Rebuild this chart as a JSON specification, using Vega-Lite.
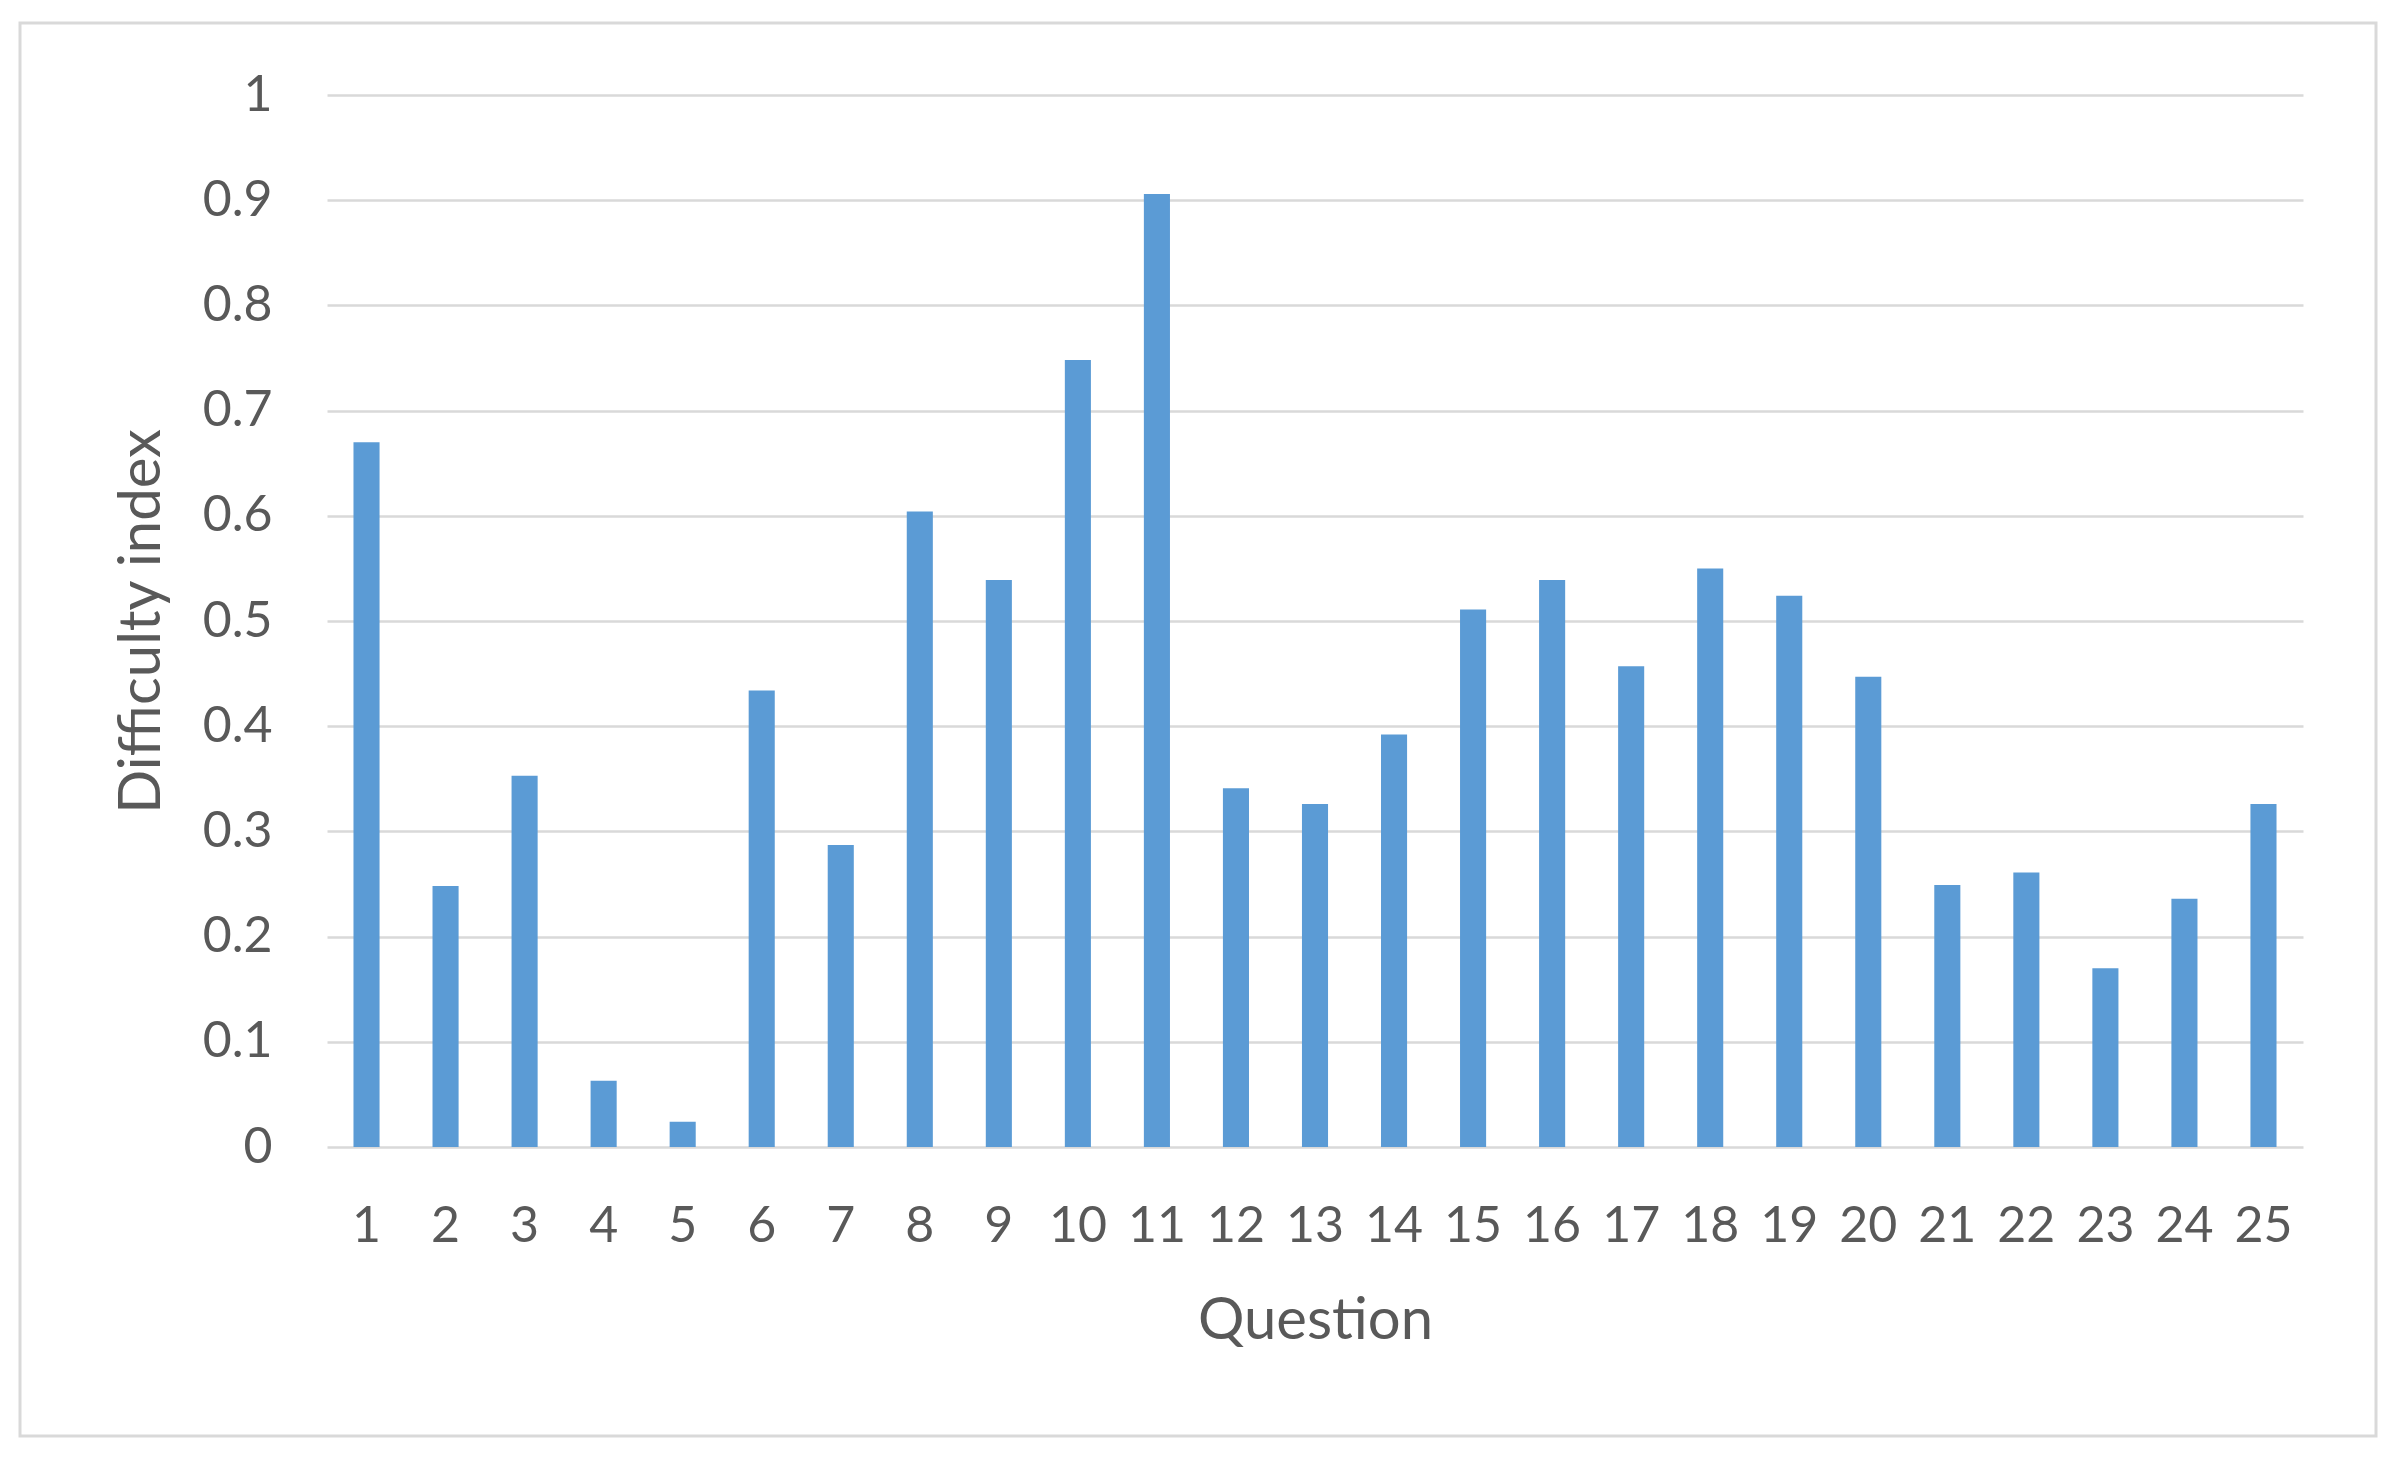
{
  "$schema": "https://vega.github.io/schema/vega-lite/v6.json",
  "width": 2356,
  "height": 1413,
  "autosize": {"type": "none"},
  "padding": {"left": 20, "top": 23, "right": 20, "bottom": 34},
  "background": "white",
  "config": {
    "view": {"stroke": "#D9D9D9", "strokeWidth": 3},
    "font": "Lato"
  },
  "data": {
    "values": [
      {"question": "1", "difficulty": 0.670},
      {"question": "2", "difficulty": 0.248},
      {"question": "3", "difficulty": 0.353},
      {"question": "4", "difficulty": 0.063},
      {"question": "5", "difficulty": 0.024},
      {"question": "6", "difficulty": 0.434},
      {"question": "7", "difficulty": 0.287},
      {"question": "8", "difficulty": 0.604},
      {"question": "9", "difficulty": 0.539},
      {"question": "10", "difficulty": 0.748},
      {"question": "11", "difficulty": 0.906},
      {"question": "12", "difficulty": 0.341},
      {"question": "13", "difficulty": 0.326},
      {"question": "14", "difficulty": 0.392},
      {"question": "15", "difficulty": 0.511},
      {"question": "16", "difficulty": 0.539},
      {"question": "17", "difficulty": 0.457},
      {"question": "18", "difficulty": 0.550},
      {"question": "19", "difficulty": 0.524},
      {"question": "20", "difficulty": 0.447},
      {"question": "21", "difficulty": 0.249},
      {"question": "22", "difficulty": 0.261},
      {"question": "23", "difficulty": 0.170},
      {"question": "24", "difficulty": 0.236},
      {"question": "25", "difficulty": 0.326}
    ]
  },
  "mark": {"type": "bar", "color": "#5B9BD5"},
  "encoding": {
    "x": {
      "field": "question",
      "type": "ordinal",
      "sort": null,
      "scale": {"range": [307, 2283], "paddingInner": 0.67, "paddingOuter": 0.335},
      "axis": {
        "title": "Question",
        "offset": -289,
        "domain": false,
        "ticks": false,
        "grid": false,
        "labelAngle": 0,
        "labelFont": "Lato",
        "labelFontSize": 50,
        "labelColor": "#595959",
        "labelPadding": 54,
        "titleFont": "Lato",
        "titleFontSize": 58,
        "titleFontWeight": "normal",
        "titleColor": "#595959",
        "titleX": 1295,
        "titleY": 191,
        "titleAlign": "center",
        "titleBaseline": "alphabetic"
      }
    },
    "y": {
      "field": "difficulty",
      "type": "quantitative",
      "scale": {"domain": [0, 1], "range": [1124, 72], "nice": false, "zero": true},
      "axis": {
        "title": "Difficulty index",
        "offset": -307,
        "values": [0, 0.1, 0.2, 0.3, 0.4, 0.5, 0.6, 0.7, 0.8, 0.9, 1],
        "format": "~g",
        "domain": false,
        "ticks": false,
        "grid": true,
        "gridColor": "#D9D9D9",
        "gridWidth": 2.5,
        "labelFont": "Lato",
        "labelFontSize": 50,
        "labelColor": "#595959",
        "labelPadding": 55,
        "titleFont": "Lato",
        "titleFontSize": 58,
        "titleFontWeight": "normal",
        "titleColor": "#595959",
        "titleAngle": -90,
        "titleX": -185,
        "titleY": 598,
        "titleAlign": "center",
        "titleBaseline": "middle"
      }
    }
  }
}
